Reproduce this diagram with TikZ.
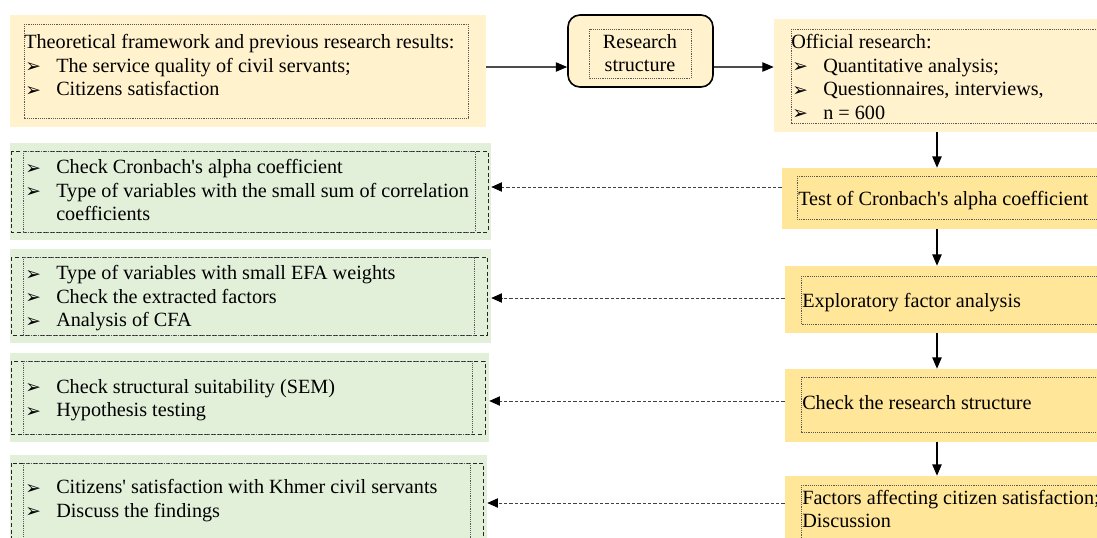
\documentclass[tikz,border=0pt]{standalone}
\usepackage{fontspec}
\setmainfont{Liberation Serif}
\newfontfamily\dingfont{DejaVu Sans}
\usetikzlibrary{arrows.meta,fit}

\definecolor{paleyellow}{HTML}{FFF2CC}
\definecolor{stepyellow}{HTML}{FFE699}
\definecolor{palegreen}{HTML}{E2EFD9}

\newcommand{\bodyfont}{\fontsize{15.15pt}{17.6pt}\selectfont}
\newcommand{\bul}{\makebox[24pt][l]{\hspace*{0.8pt}\raisebox{-0.3pt}{\dingfont\fontsize{14pt}{14pt}\selectfont ➢}}}
\newcommand{\q}{\textquotesingle}

\begin{document}
\begin{tikzpicture}[x=0.75pt,y=-0.75pt,
  panel/.style={inner sep=0pt,draw=none},
  frame/.style={draw=black!65,line width=0.6pt,dash pattern=on 0.7pt off 0.7pt},
  border/.style={draw=black!85,line width=0.7pt,dash pattern=on 3pt off 2pt},
  txt/.style={inner sep=0pt,align=left,anchor=north west,font=\bodyfont},
  flow/.style={draw=black!70,line width=0.8pt,-{Triangle[length=8.5pt,width=7pt,color=black]}},
  down/.style={draw=black,line width=1pt,-{Triangle[length=8.5pt,width=7pt]}},
  back/.style={draw=black!75,line width=0.6pt,dash pattern=on 2.5pt off 1.5pt,
    -{Triangle[length=8pt,width=7pt,color=black]}}]

\useasboundingbox (0,0) rectangle (1097,537);
\clip (0,0) rectangle (1097,537);

% rows and column used by the connectors
\coordinate (r0) at (0,67);
\coordinate (r1) at (0,187);
\coordinate (r2) at (0,298);
\coordinate (r3) at (0,401);
\coordinate (r4) at (0,503);
\coordinate (col) at (937,0);

%% top row
\node [panel,fill=paleyellow,fit={(10,15) (486,127)}] (theory) {};
\draw [frame] (24,24) rectangle (468,118);
\node [txt] (theorytxt) at (24,34.2) {Theoretical framework and previous research results:\\
  \bul The service quality of civil servants;\\
  \bul Citizens satisfaction};

\node [panel,fill=paleyellow,draw=black,line width=1.2pt,rounded corners=9pt,fit={(568,15) (713,87)}] (research) {};
\draw [frame] (589,29) rectangle (691,78);
\node [txt,align=center,anchor=north] (researchtxt) at (640,34) {Research\\structure};

\node [panel,fill=paleyellow,fit={(774,19) (1110,132)}] (official) {};
\draw [frame] (791,29) rectangle (1110,123);
\node [txt] (officialtxt) at (791,34.2) {Official research:\\
  \bul Quantitative analysis;\\
  \bul Questionnaires, interviews,\\
  \bul n = 600};

%% right column, the analysis steps
\node [panel,fill=stepyellow,fit={(782,168) (1110,229)}] (cronbach) {};
\draw [frame] (797,176) rectangle (1110,219);
\node [txt] (cronbachtxt) at (798,191.2) {Test of Cronbach\q s alpha coefficient};

\node [panel,fill=stepyellow,fit={(785,266) (1110,333)}] (efa) {};
\draw [frame] (801,276) rectangle (1110,324);
\node [txt] (efatxt) at (802,292.7) {Exploratory factor analysis};

\node [panel,fill=stepyellow,fit={(785,369) (1110,442)}] (sem) {};
\draw [frame] (801,377) rectangle (1110,432);
\node [txt] (semtxt) at (802,395.2) {Check the research structure};

\node [panel,fill=stepyellow,fit={(785,476) (1110,560)}] (factors) {};
\draw [frame] (801,485) rectangle (1110,560);
\node [txt] (factorstxt) at (802,489.5) {Factors affecting citizen satisfaction;\\Discussion};

%% left column, what each step checks
\node [panel,fill=palegreen,fit={(10,143) (491,240)}] (g1) {};
\draw [border] (11,151) rectangle (488,232);
\draw [frame] (23,151) rectangle (475,232);
\node [txt] (g1txt) at (24,159.2) {\bul Check Cronbach\q s alpha coefficient\\
  \bul Type of variables with the small sum of correlation\\
  \hspace*{24pt}coefficients};

\node [panel,fill=palegreen,fit={(10,249) (491,343)}] (g2) {};
\draw [border] (11,257) rectangle (487,335);
\draw [frame] (23,257) rectangle (474,335);
\node [txt] (g2txt) at (24,265.2) {\bul Type of variables with small EFA weights\\
  \bul Check the extracted factors\\
  \bul Analysis of CFA};

\node [panel,fill=palegreen,fit={(10,353) (489,442)}] (g3) {};
\draw [border] (11,361) rectangle (485,434);
\draw [frame] (23,361) rectangle (472,434);
\node [txt] (g3txt) at (24,379.2) {\bul Check structural suitability (SEM)\\
  \bul Hypothesis testing};

\node [panel,fill=palegreen,fit={(10,455) (487,560)}] (g4) {};
\draw [border] (11,463) rectangle (483.5,560);
\draw [frame] (23,463) rectangle (470,560);
\node [txt] (g4txt) at (24,479.2) {\bul Citizens\q\ satisfaction with Khmer civil servants\\
  \bul Discuss the findings};

%% connectors
\draw [flow] (theory.east|-r0) -- (research.west|-r0);
\draw [flow] (research.east|-r0) -- (official.west|-r0);

\draw [down] (official.south-|col) -- (cronbach.north-|col);
\draw [down] (cronbach.south-|col) -- (efa.north-|col);
\draw [down] (efa.south-|col) -- (sem.north-|col);
\draw [down] (sem.south-|col) -- (factors.north-|col);

\draw [back] (cronbach.west|-r1) -- (g1.east|-r1);
\draw [back] (efa.west|-r2) -- (g2.east|-r2);
\draw [back] (sem.west|-r3) -- (g3.east|-r3);
\draw [back] (factors.west|-r4) -- (g4.east|-r4);

\end{tikzpicture}
\end{document}
